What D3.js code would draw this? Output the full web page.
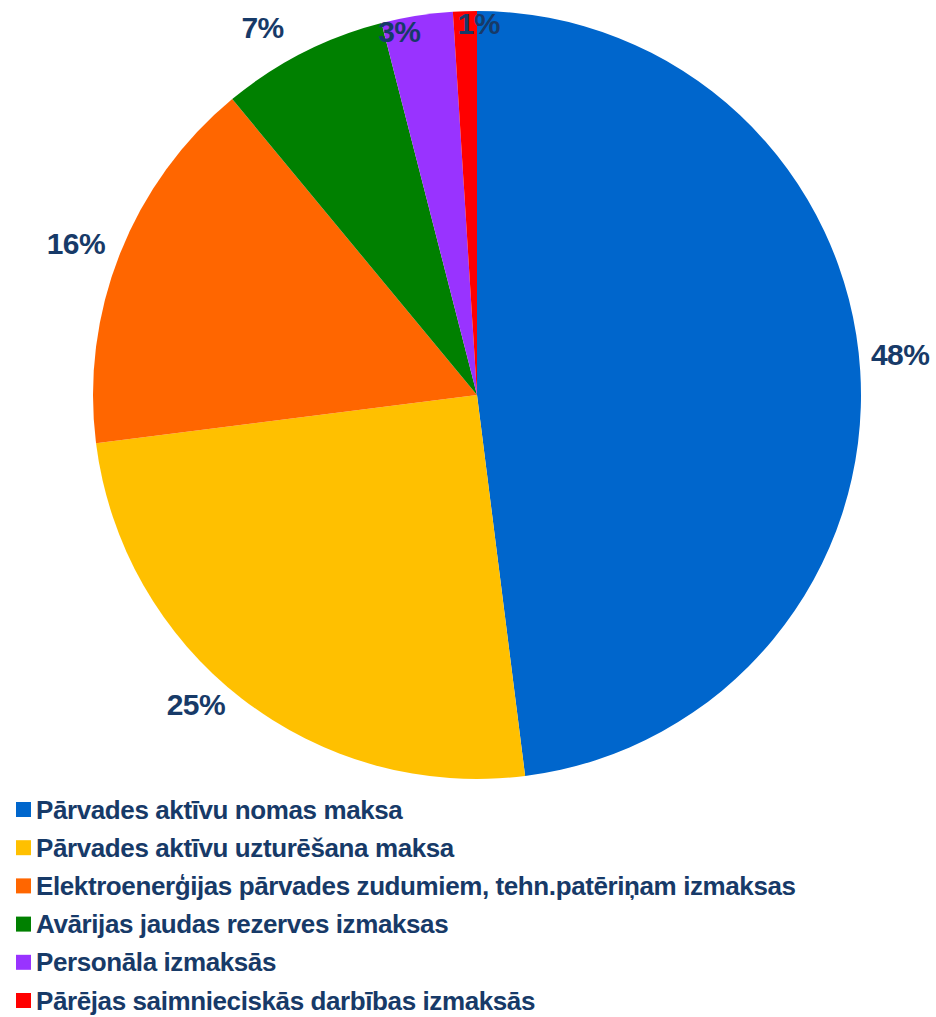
<!DOCTYPE html>
<html><head><meta charset="utf-8">
<script src="https://cdn.jsdelivr.net/npm/d3@7/dist/d3.min.js"></script>
<style>
body{margin:0;background:#fff;}
text{font-family:"Liberation Sans",Arial,sans-serif;font-weight:bold;fill:#173A68;}
</style></head><body>
<svg id="c" width="936" height="1017"></svg>
<script>
const categories = [
  "Pārvades aktīvu nomas maksa",
  "Pārvades aktīvu uzturēšana maksa",
  "Elektroenerģijas pārvades zudumiem, tehn.patēriņam izmaksas",
  "Avārijas jaudas rezerves izmaksas",
  "Personāla izmaksās",
  "Pārējas saimnieciskās darbības izmaksās"
];
const values = [48, 25, 16, 7, 3, 1];
const colors = ["#0066CC", "#FFC000", "#FF6600", "#008000", "#9933FF", "#FF0000"];

const svg = d3.select("#c");
const cx = 477, cy = 395, R = 384;
const g = svg.append("g").attr("transform", `translate(${cx},${cy})`);
const pie = d3.pie().sort(null).value(d => d)(values);
const arc = d3.arc().innerRadius(0).outerRadius(R);
g.selectAll("path").data(pie).join("path")
  .attr("d", arc).attr("fill", (d, i) => colors[i]);

// label placement: polar position just outside the slice, plus layout nudges
const labelR = 426;
const nudge = [[-2, -14], [-20, -27], [-5, 5], [-21, 12], [-11, 57], [15, 54]];
g.selectAll("text.lbl").data(pie).join("text")
  .attr("class", "lbl")
  .attr("text-anchor", "middle")
  .attr("dominant-baseline", "central")
  .style("font-size", "30px")
  .style("letter-spacing", "-0.5px")
  .attr("transform", (d, i) => {
    const a = (d.startAngle + d.endAngle) / 2;
    return `translate(${labelR * Math.sin(a) + nudge[i][0]},${-labelR * Math.cos(a) + nudge[i][1]})`;
  })
  .text(d => d.value + "%");

const leg = svg.append("g").attr("transform", "translate(16,809.5)");
const rowH = 38.2;
const rows = leg.selectAll("g").data(categories).join("g")
  .attr("transform", (d, i) => `translate(0,${i * rowH})`);
rows.append("rect").attr("x", 0).attr("y", -7.5).attr("width", 15).attr("height", 15)
  .attr("fill", (d, i) => colors[i]);
rows.append("text").attr("x", 20).attr("y", 0)
  .attr("dominant-baseline", "central")
  .style("font-size", "26px")
  .style("letter-spacing", "-0.4px")
  .text(d => d);
</script>
</body></html>
